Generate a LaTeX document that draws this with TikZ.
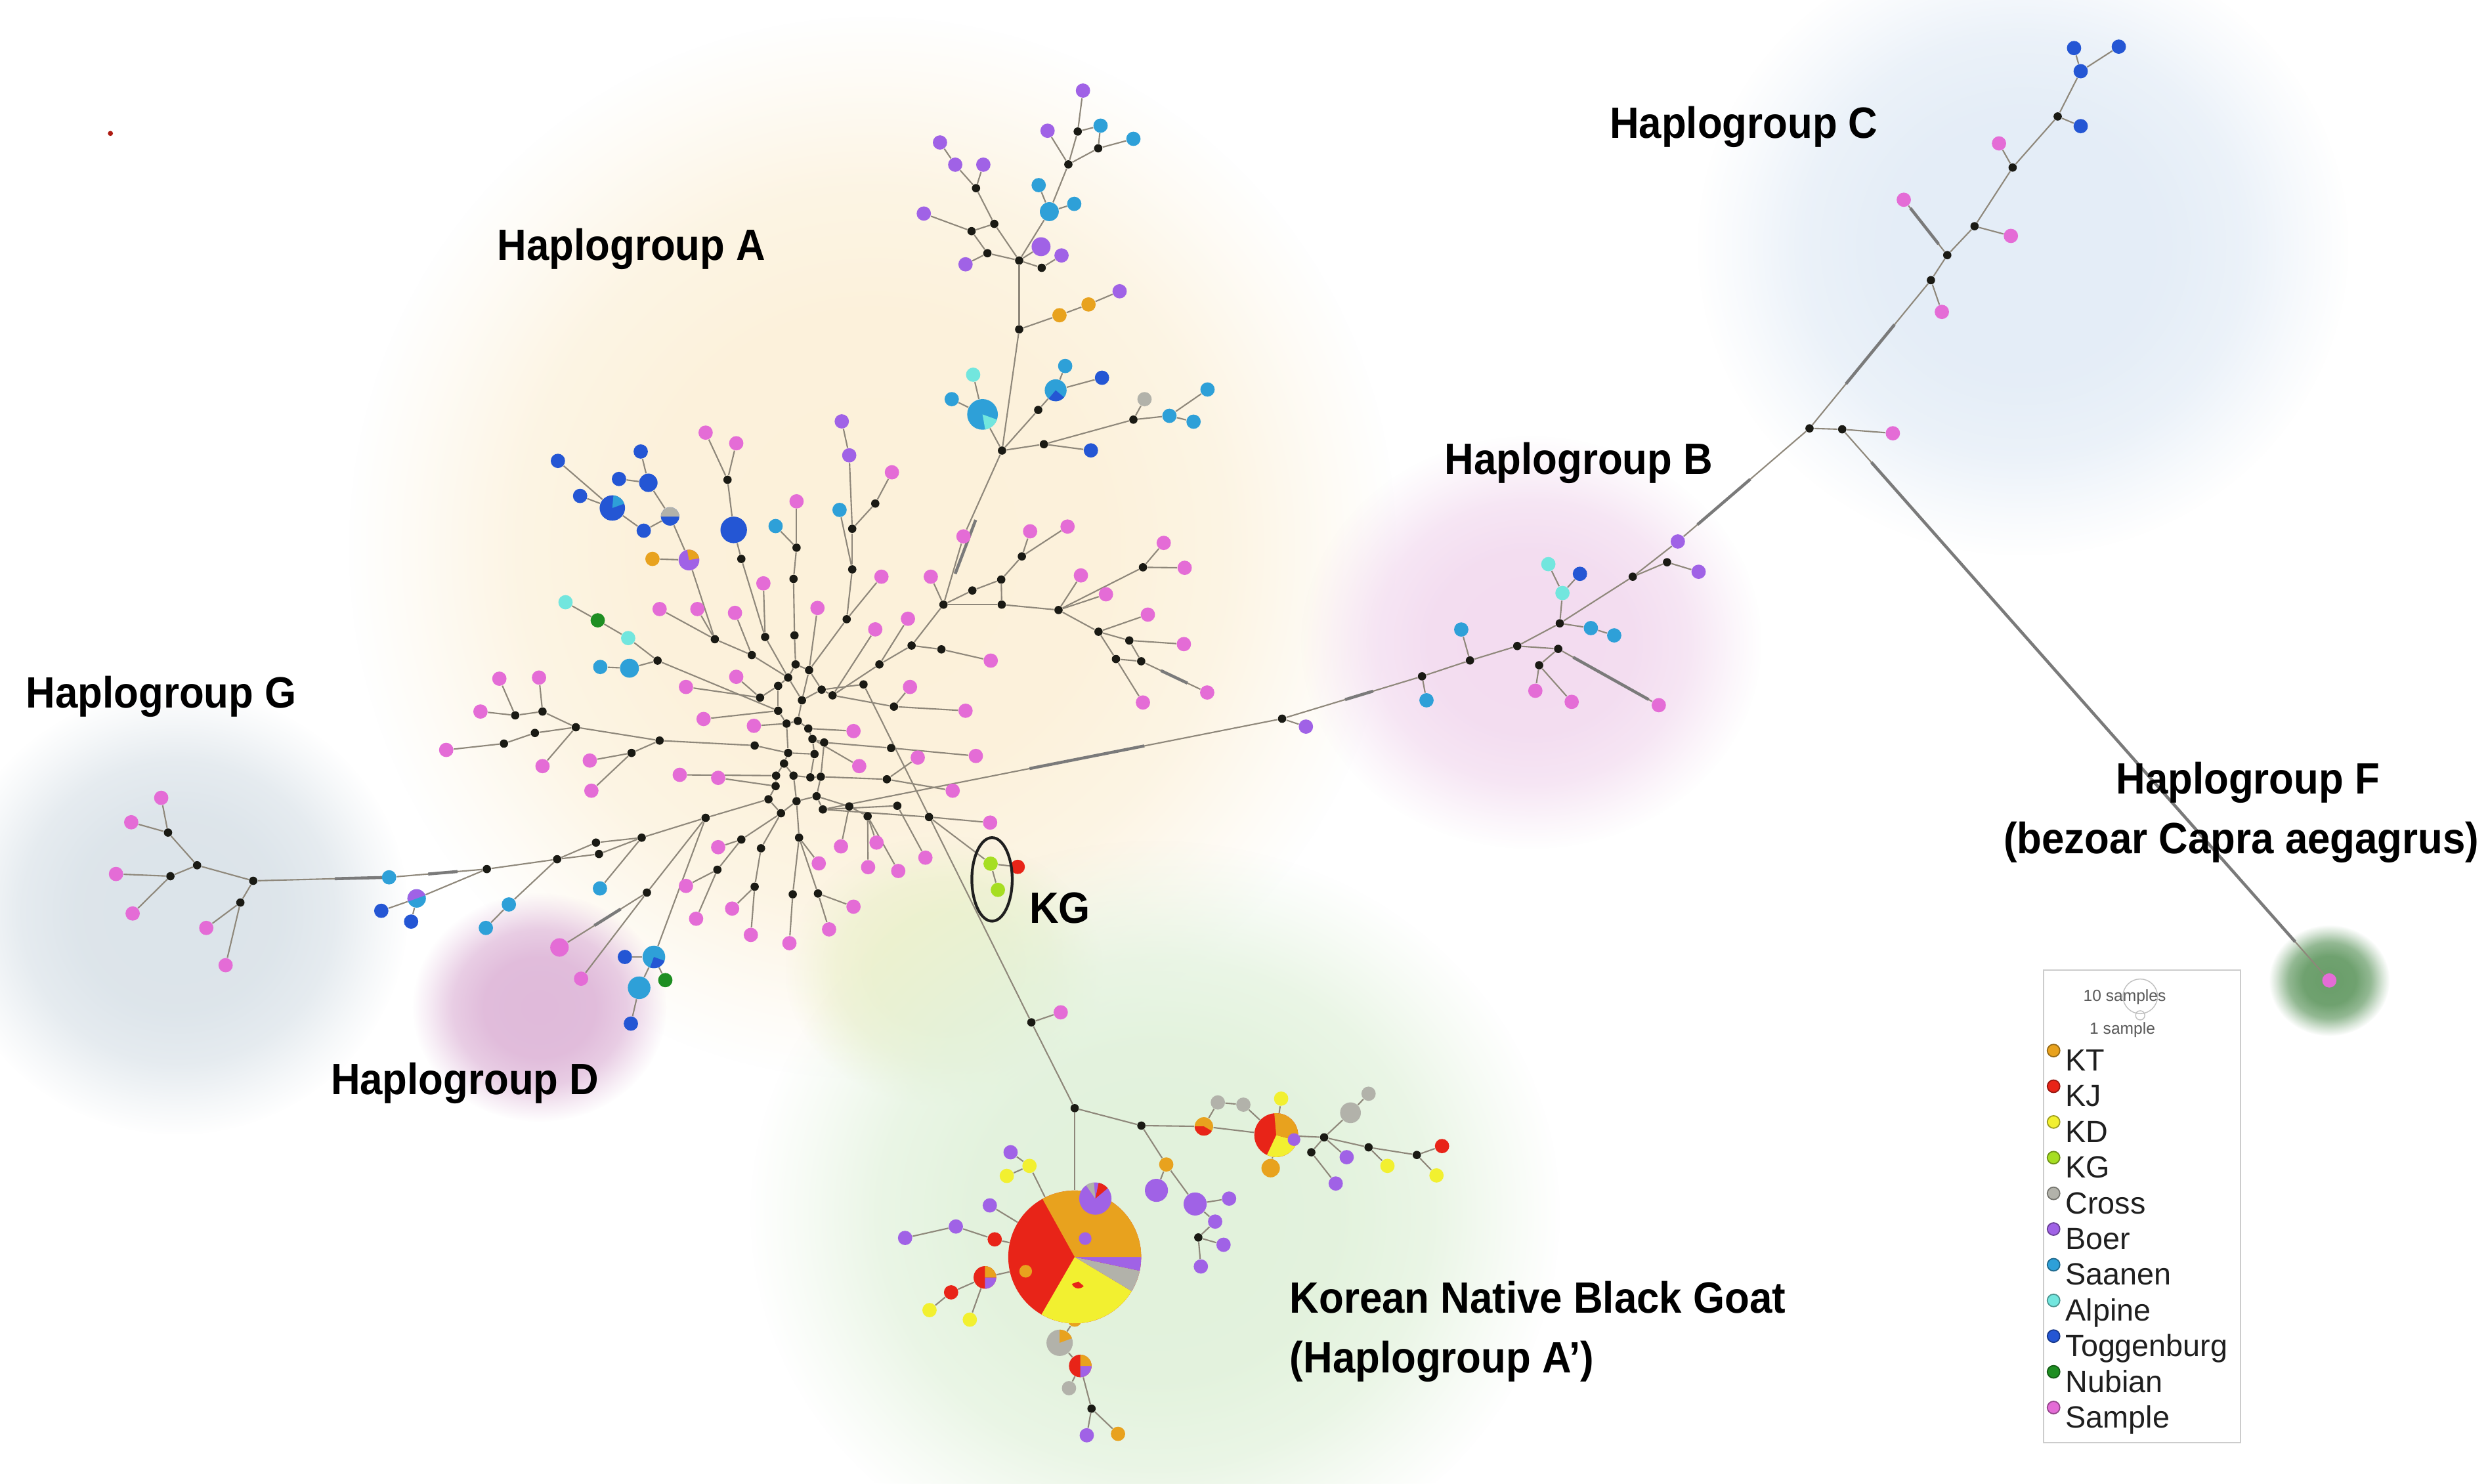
\documentclass[tikz,border=0pt]{standalone}
\usepackage{fontspec}
\setmainfont{Liberation Sans}
\newfontfamily\labfont[FakeStretch=0.925]{Liberation Sans}
\usetikzlibrary{calc,fadings,shapes.geometric}
\pgfdeclarelayer{blobs}
\pgfdeclarelayer{edges}
\pgfsetlayers{blobs,edges,main}
\pgfdeclareradialshading{blobshade}{\pgfpointorigin}{color(0bp)=(white); color(11bp)=(white!96!black); color(17bp)=(white!72!black); color(22bp)=(white!25!black); color(25bp)=(black); color(50bp)=(black)}
\pgfdeclarefading{blobfade}{\pgfuseshading{blobshade}}
\definecolor{cKT}{HTML}{E8A21E}
\definecolor{cKJ}{HTML}{E82418}
\definecolor{cKD}{HTML}{F2F030}
\definecolor{cKG}{HTML}{A6DE22}
\definecolor{cCross}{HTML}{B2B2AA}
\definecolor{cBoer}{HTML}{A062E6}
\definecolor{cSaanen}{HTML}{2EA0D8}
\definecolor{cAlpine}{HTML}{72E6DE}
\definecolor{cTog}{HTML}{2456D4}
\definecolor{cNubian}{HTML}{1E8E22}
\definecolor{cSample}{HTML}{E46CD6}
\definecolor{cMed}{HTML}{1A1A14}
\definecolor{cEdge}{HTML}{8E877A}
\definecolor{cBlobA}{HTML}{FCF1DA}
\definecolor{cBlobC}{HTML}{E4EDF7}
\definecolor{cBlobB}{HTML}{F3DCF0}
\definecolor{cBlobG}{HTML}{DCE4EA}
\definecolor{cBlobD}{HTML}{E0BADA}
\definecolor{cBlobK}{HTML}{E2F2DC}
\definecolor{cBlobY}{HTML}{EDF1CF}
\definecolor{cBlobF}{HTML}{6A9E6A}
\newcommand\pslice[5]{%
  \begin{scope}[shift={(#1.center)},x=1pt,y=1pt]
    \fill[#5] (0,0) -- (#2:#4) arc[start angle=#2,end angle=#3,radius=#4] -- cycle;
  \end{scope}}
\tikzset{
  hdot/.style={circle,inner sep=0pt,minimum size=6.2pt,fill=#1},
  smp/.style={hdot=cSample},
  boer/.style={hdot=cBoer},
  saan/.style={hdot=cSaanen},
  togg/.style={hdot=cTog},
  alp/.style={hdot=cAlpine},
  nub/.style={hdot=cNubian},
  ktn/.style={hdot=cKT},
  kjn/.style={hdot=cKJ},
  kdn/.style={hdot=cKD},
  kgn/.style={hdot=cKG},
  crs/.style={hdot=cCross},
  med/.style={circle,inner sep=0pt,minimum size=3.6pt,fill=cMed},
  conn/.style={draw=cEdge,line width=0.6pt},
  mutseg/.style={draw=black!52,line width=1.3pt},
  lab/.style={font=\labfont\bfseries\fontsize{19}{23}\selectfont,text=black,inner sep=0pt,anchor=base},
  leg/.style={font=\fontsize{13.3}{16}\selectfont,text=black!88,inner sep=0pt,anchor=base west},
  ldot/.style={circle,inner sep=0pt,minimum size=5.4pt,fill=#1,draw=#1!65!black,line width=0.5pt},
}
\begin{document}
\begin{tikzpicture}[x=0.02417cm,y=-0.02417cm]
\useasboundingbox (0,0) rectangle (1568,935);

% ---------- soft background blobs ----------
\begin{pgfonlayer}{blobs}
\fill[white] (0,0) rectangle (1568,935);
\fill[cBlobA, path fading=blobfade] (550,345) ellipse (330 and 335);
\fill[cBlobY, path fading=blobfade] (595,612) ellipse (100 and 85);
\fill[cBlobK, path fading=blobfade] (728,765) ellipse (255 and 235);
\fill[cBlobG, path fading=blobfade] (112,575) ellipse (145 and 140);
\fill[cBlobD, path fading=blobfade] (340,635) ellipse (80 and 72);
\fill[cBlobB, path fading=blobfade] (965,405) ellipse (145 and 130);
\fill[cBlobC, path fading=blobfade] (1275,155) ellipse (205 and 195);
\fill[cBlobF, path fading=blobfade] (1468,618) ellipse (38 and 35);
\end{pgfonlayer}

% ---------- median vectors ----------
\foreach \n/\x/\y in {h1/496.7/427.1, h2/509.9/422.4, h3/501.4/418.8, h4/490.4/432.3, h5/517.8/434.7, h6/524.7/438.3, h7/505.4/441.4, h8/490.4/448.0, h9/502.8/454.4, h10/509.4/459.2, h11/495.7/456.1, h12/512.0/465.8, h13/496.7/474.6, h14/519.4/468.0, h15/513.3/475.3, h16/494.1/481.3, h17/489.1/488.9, h18/500.1/488.9, h19/510.7/490.0, h20/517.3/489.6, h21/488.8/495.5, h22/484.3/503.8, h23/492.2/512.6, h24/502.0/505.0, h25/514.6/501.9, h26/518.6/510.2,
m1/500.7/400.5, m2/500.1/364.9, m3/502.0/345.2, m4/533.6/390.3, m5/537.1/358.9, m6/537.1/333.3, m7/551.6/317.4, m8/482.2/401.5, m9/467.2/352.3, m10/458.5/302.4, m11/473.8/412.9, m12/450.5/402.9, m13/479.0/439.7, m14/414.4/416.4, m15/475.6/469.9, m16/415.7/466.8, m17/362.9/458.4, m18/341.9/448.5, m19/324.7/450.9, m20/337.1/462.0, m21/317.6/468.7, m22/398.0/474.6, m23/444.7/515.5, m24/404.4/528.0, m25/375.6/531.1, m25b/377.5/538.3, m26/351.1/541.6, m27/306.8/547.8, m28/407.7/562.6, m29/467.2/529.2, m30/452.1/548.2, m31/479.6/534.7, m32/475.6/558.9, m33/503.6/528.0, m34/499.6/563.7, m35/515.5/563.2, m36/535.2/508.3, m37/546.8/514.5, m38/565.5/507.9, m39/585.5/515.0, m40/558.9/491.2, m41/561.6/471.5, m42/563.4/445.4, m43/554.2/418.8, m44/574.5/406.9, m45/593.3/409.3, m46/544.2/431.4,
r1/594.6/381.1, r2/612.8/372.2, r3/631.0/365.3, r4/644.0/350.7, r5/631.3/381.1, r6/667.1/384.5, r7/720.3/357.6, r8/692.3/398.2, r9/711.7/403.7, r10/703.3/415.4, r11/719.2/416.8,
t0/631.5/284.0, t1/654.3/258.4, t2/657.9/280.0, t3/714.3/264.5, t4/642.3/207.6, t5/642.3/164.2, t6/656.5/168.8, t7/673.3/103.6, t8/679.2/82.9, t9/692.1/93.5, t10/622.3/159.6, t11/612.3/145.7, t12/626.6/141.1, t13/615.1/118.6,
g1/159.6/555.2, g2/124.2/545.4, g3/105.9/524.8, g4/107.4/552.3, g5/151.5/568.9,
k1/650.0/644.4, k2/677.3/698.5, k3/719.3/709.5, k4/834.5/716.9, k5/826.4/726.3, k6/862.5/723.2, k7/892.9/728.0, k8/755.2/780.0, k9/687.9/887.9,
bl0/808.0/453.0, bb1/896.2/426.3, bb2/926.4/416.3, bb3/956.2/407.2, bb4/983.0/392.9, bb5/982.0/409.0, bb6/970.0/419.3, bb7/1029.0/363.5, bb8/1050.6/354.4,
c0/1140.4/270.0, c1/1161.0/270.6, c2/1216.9/176.6, c3/1227.2/160.8, c4/1244.4/142.6, c5/1268.4/105.6, c6/1296.8/73.4}
  \node[med] (\n) at (\x,\y) {};

% ---------- samples ----------
\foreach \n/\x/\y in {p1/444.7/272.7, p2/464.0/279.4, p5/562.1/297.7, p6/502.0/316.0, p9/481.1/367.7, p10/415.7/383.9, p11/439.5/383.9, p12/463.2/386.3, p13/515.2/383.2, p14/555.5/363.5, p15/586.6/363.5, p16/607.2/338.1, p17/649.2/334.9, p18/572.2/390.0, p19/551.6/396.7, p20/624.4/416.4, p21/464.0/426.6, p22/432.3/433.0, p23/573.5/433.0, p24/608.5/448.0, p25/443.4/453.2, p26/475.1/457.5, p27/537.9/460.8, p28/615.0/476.5, p29/578.4/477.5, p30/541.5/482.9, p31/428.4/488.4, p32/452.6/490.3, p33/600.4/498.4, p34/624.0/518.5, p35/452.6/534.0, p36/530.0/533.5, p37/552.4/531.1, p38/583.2/540.6, p39/516.0/544.2, p40/547.1/546.6, p41/566.1/549.0, p42/432.3/558.4, p43/461.4/572.7, p44/438.7/579.1, p45/537.9/571.5, p46/473.2/589.3, p47/497.5/594.5, p48/522.5/585.8, p49/672.8/331.9, p50/681.2/362.7, p51/697.0/374.6, p52/733.4/342.2, p53/746.6/357.9, p54/723.4/387.4, p55/746.1/406.0, p56/720.3/442.8, p57/760.8/436.5, p58/314.7/427.8, p59/339.7/427.1, p60/302.8/448.5, p61/281.2/472.7, p62/341.9/482.9, p63/371.7/479.4, p64/372.7/498.4, p66/366.2/616.9, pk/668.5/638.1,
pg1/101.6/502.9, pg2/82.7/518.3, pg3/73.1/550.9, pg4/83.6/575.8, pg5/130.0/584.9, pg6/142.2/608.4,
pB1/967.6/435.4, pB2/990.5/442.4, pB3/1045.4/444.5, pC1/1192.9/273.1, pC2/1223.8/196.6, pC3/1199.8/125.9, pC4/1267.3/148.7, pC5/1259.8/90.4, pF/1468.0/618.0}
  \node[smp] (\n) at (\x,\y) {};
\node[smp, minimum size=8pt] (p65) at (352.6,597.2) {};

\foreach \n/\x/\y in {b1/530.5/265.6, b2/535.2/287.0, b3/705.6/183.6, b4/669.0/161.0, b6/682.5/57.1, b7/660.2/82.4, b8/608.5/166.6, b9/582.2/134.6, b10/602.0/103.8, b11/619.7/103.8, b12/592.4/89.8, bpu0/823.0/458.0, boB1/1057.4/341.3, boB2/1070.5/360.4, bo2/848.7/729.4, bo3/841.8/746.0, bo6/774.6/755.5, bo7/765.8/770.0, bo8/771.1/784.6, bo9/756.8/798.3, bo11/636.9/726.3, bo12/623.8/759.8, bo13/602.4/773.1, bo14/570.4/780.3, bo15/684.9/904.7}
  \node[boer] (\n) at (\x,\y) {};
\foreach \n/\x/\y in {s1/529.1/321.4, s2/488.8/331.6, sa3/378.3/420.4, sa5/599.8/251.6, sa6/671.3/230.7, sa7/737.0/262.1, sa8/752.2/265.8, sa9/761.0/245.5, sa11/654.6/116.7, sa12/677.0/128.5, sa13/693.6/79.2, sa14/714.3/87.5, saG/245.2/553.0, sa15/320.7/570.1, sa16/306.2/584.9, sa17/378.1/560.0, saB1/899.0/441.4, saB2/920.9/396.8, saB3/1002.6/395.9, saB4/1017.3/400.5}
  \node[saan] (\n) at (\x,\y) {};
\foreach \n/\x/\y in {tg1/351.6/290.5, tg2/403.8/284.6, tg3/390.1/301.9, tg5/365.6/312.6, tg6/405.7/334.5, tg8/694.5/238.1, tg9/687.5/283.9, tgG1/240.3/574.1, tgG2/259.1/580.9, tgD1/393.8/603.2, tgD2/397.6/645.2, tgB/995.7/361.7, tgC1/1311.3/79.5, tgC2/1311.3/44.9, tgC3/1307.1/30.3, tgC4/1335.3/29.4}
  \node[togg] (\n) at (\x,\y) {};
\foreach \n/\x/\y in {al1/356.4/379.6, al2/395.9/402.2, al3/613.3/236.2, alB1/984.7/373.8, alB2/975.8/355.6}
  \node[alp] (\n) at (\x,\y) {};
\foreach \n/\x/\y in {nu1/376.7/391.0, nuD/419.3/617.8}
  \node[nub] (\n) at (\x,\y) {};
\foreach \n/\x/\y in {kt1/411.2/352.3, kt2/667.7/198.7, kt3/686.0/191.9, kt5/735.0/734.0, kt7/677.3/831.8, kt8/704.6/903.8}
  \node[ktn] (\n) at (\x,\y) {};
\foreach \n/\x/\y in {kj0/641.4/546.4, kj1/908.8/722.4, kj2/626.9/781.2, kj3/599.4/814.6}
  \node[kjn] (\n) at (\x,\y) {};
\foreach \n/\x/\y in {kd1/807.4/692.5, kd2/874.4/734.9, kd3/905.3/740.9, kd5/648.8/734.9, kd6/634.5/741.2, kd7/585.8/825.8, kd8/611.2/831.8}
  \node[kdn] (\n) at (\x,\y) {};
\foreach \n/\x/\y in {kg1/624.3/544.4, kg2/628.9/560.9}
  \node[kgn] (\n) at (\x,\y) {};
\foreach \n/\x/\y in {cr1/721.3/251.6, cr2/767.5/694.9, cr3/783.6/696.3, cr5/862.5/689.4, cr6/673.7/875.0}
  \node[crs] (\n) at (\x,\y) {};

% ---------- larger nodes and pies, haplogroups A, D, G ----------
\node[togg, minimum size=8pt] (tg4) at (408.6,304.3) {};
\node[togg, minimum size=11.5pt] (tg7) at (462.4,334.0) {};
\node[saan, minimum size=8.2pt] (sa4) at (396.7,421.2) {};
\node[saan, minimum size=8.2pt] (sa10) at (661.3,133.4) {};
\node[boer, minimum size=8.2pt] (b5) at (656.1,155.5) {};
\node[togg, minimum size=11pt] (pieTG) at (385.9,320.2) {};
\pslice{pieTG}{20}{85}{5.5}{cSaanen}
\node[togg, minimum size=8pt] (pieTC) at (422.3,325.5) {};
\pslice{pieTC}{0}{180}{4}{cCross}
\node[boer, minimum size=9pt] (pieBK) at (434.2,353.0) {};
\pslice{pieBK}{10}{100}{4.5}{cKT}
\node[saan, minimum size=13.3pt] (ps1) at (619.2,261.2) {};
\pslice{ps1}{280}{340}{6.65}{cAlpine}
\node[saan, minimum size=9.5pt] (ps2) at (665.3,246.0) {};
\pslice{ps2}{230}{320}{4.75}{cTog}
\node[saan, minimum size=8pt] (pieGB) at (262.6,566.3) {};
\pslice{pieGB}{20}{200}{4}{cBoer}
\node[saan, minimum size=9.8pt] (pieD) at (412.1,603.2) {};
\pslice{pieD}{250}{340}{4.9}{cTog}
\node[saan, minimum size=9.8pt] (saD) at (402.8,622.6) {};

% ---------- Korean native black goat ----------
\node[boer, minimum size=10pt] (bo4) at (728.8,750.3) {};
\node[boer, minimum size=10pt] (bo5) at (753.2,758.9) {};
\node[crs, minimum size=9pt] (cr4) at (851.1,701.4) {};
\node[ktn, minimum size=8pt] (kt4) at (800.8,736.3) {};
\node[ktn, minimum size=8pt] (pie1) at (758.7,710.0) {};
\pslice{pie1}{180}{330}{4}{cKJ}
\node[kjn, minimum size=19pt] (pie2) at (804.3,715.5) {};
\pslice{pie2}{245}{345}{9.5}{cKD}
\pslice{pie2}{-15}{95}{9.5}{cKT}
\node[boer, minimum size=5.5pt] (bo1) at (815.5,718.3) {};
\node[kjn, minimum size=57.6pt] (kbig) at (677.3,792.3) {};
\pslice{kbig}{240}{329}{28.8}{cKD}
\pslice{kbig}{329}{348}{28.8}{cCross}
\pslice{kbig}{348}{360}{28.8}{cBoer}
\pslice{kbig}{0}{119}{28.8}{cKT}
\node[boer, minimum size=14pt] (pie3) at (690.3,755.5) {};
\pslice{pie3}{95}{125}{7}{cCross}
\pslice{pie3}{40}{78}{7}{cKJ}
\node[boer, minimum size=5.5pt] (bo10) at (683.9,780.7) {};
\node[ktn, minimum size=5.5pt] (kt6) at (646.4,801.3) {};
\node[kdn, minimum size=6pt] (pie4) at (679.6,807.8) {};
\pslice{pie4}{200}{320}{3}{cKJ}
\node[kjn, minimum size=9.8pt] (pie5) at (620.7,805.2) {};
\pslice{pie5}{270}{360}{4.9}{cBoer}
\pslice{pie5}{0}{90}{4.9}{cKT}
\node[crs, minimum size=11.4pt] (pie6) at (667.8,846.4) {};
\pslice{pie6}{20}{90}{5.7}{cKT}
\node[kjn, minimum size=9.8pt] (pie7) at (680.8,861.0) {};
\pslice{pie7}{270}{360}{4.9}{cBoer}
\pslice{pie7}{0}{90}{4.9}{cKT}

% KG ring and stray speck
\node[draw=black!88, line width=1.2pt, ellipse, inner sep=0pt, minimum width=17.5pt, minimum height=36.2pt] (kgring) at (625.2,554.3) {};
\node[circle, fill=cKJ!75!black, inner sep=0pt, minimum size=2.2pt] (speck) at (69.6,84.1) {};

% ---------- connectors ----------
\begin{pgfonlayer}{edges}
\foreach \a/\b in {h3/h1, h3/h2, h1/h4, h1/h7, h2/h7, h2/h5, h5/h6, h7/h9, h4/h8, h8/h11, h9/h11, h9/h10, h10/h12, h11/h13, h12/h14, h12/h15, h13/h16, h15/h19, h16/h17, h16/h18, h18/h19, h19/h20, h17/h21, h21/h22, h22/h23, h18/h24, h24/h25, h24/h23, h25/h26, h20/h25, h7/h5, h15/h13, h14/h20,
h3/m1, m1/m2, m2/m3, m3/p6, s2/m3,
h2/m4, m4/m5, m5/m6, m6/m7, m7/p5, m6/b2, b2/b1, m5/s1, m4/p14, h2/p13,
h1/m8, m8/m9, m9/tg7, tg7/m10, m10/p1, m10/p2, m8/p9,
h1/m11, m11/m12, m12/pieBK, m12/p11, m12/p10, m11/p12,
pieBK/kt1, pieBK/pieTC, pieTC/tg6, pieTC/tg4, tg4/tg2, tg4/tg3, tg6/pieTG, pieTG/tg5, pieTG/tg1,
h4/m13, m13/p21, m13/p22,
h8/m14, m14/sa4, sa4/sa3, m14/al2, al2/nu1, nu1/al1,
h8/p25, h11/p26,
h13/m15, m15/m16, m16/m17, m16/m22, m22/p63, m22/p64, m17/m18, m18/p59, m18/m19, m19/p58, m19/p60, m17/m20, m20/m21, m21/p61, m17/p62,
h17/p31, h21/p32,
h22/m23, m23/m24, m24/m25, m24/m25b, m25/m26, m25b/m26, m26/m27, m27/saG, saG/g1, m27/pieGB, pieGB/tgG1, pieGB/tgG2, m26/sa15, sa15/sa16, m24/sa17, m23/m28, m28/p65, m28/p66, m23/pieD, pieD/tgD1, pieD/nuD, pieD/saD, saD/tgD2,
g1/g2, g2/g3, g3/pg1, g3/pg2, g2/g4, g4/pg3, g4/pg4, g1/g5, g5/pg5, g5/pg6,
h23/m29, m29/p35, m29/m30, m30/p42, m30/p44,
h23/m31, m31/m32, m32/p43, m32/p46,
h24/m33, m33/m34, m34/p47, m33/m35, m35/p48, m33/p39, m35/p45,
h25/m36, m36/p36, m36/m37, m37/p37, m37/p40, m37/p41,
h26/m38, m38/p38, h26/m39, m39/p34, m39/kg1, kg1/kg2, kg1/kj0,
h20/m40, m40/p29, m40/p33,
h14/m41, m41/p28, h12/p30, h10/p27,
h6/m42, m42/p24, m42/p23,
h6/m43, m43/m44, m44/m45, m45/p20, m43/p18, m44/r1, r1/p15, h6/p19,
h5/m46, m46/k1, k1/pk, k1/k2,
r1/p16, p16/t0,
r1/r2, r2/r3, r3/r4, r4/p17, r4/p49, r1/r5, r3/r5, r5/r6, r6/p50, r6/p51, r6/r7, r7/p52, r7/p53, r6/r8, r8/p54, r8/r9, r9/p55, r8/r10, r10/p56, r9/r11, r10/r11, r11/p57,
t0/ps1, ps1/al3, ps1/sa5, t0/t1, t1/ps2, ps2/sa6, ps2/tg8, t0/t2, t2/tg9, t2/t3, t3/cr1, t3/sa7, sa7/sa8, sa7/sa9, t0/t4, t4/kt2, kt2/kt3, kt3/b3, t4/t5, t5/t6, t6/b4, t5/b5, t5/sa10, sa10/t7, sa10/sa11, sa10/sa12, t7/t8, t8/b6, t8/sa13, t7/t9, t9/sa13, t9/sa14, t7/b7, t5/t10, t10/b8, t10/t11, t11/b9, t11/t12, t5/t12, t12/t13, t13/b10, t13/b11, b10/b12,
k2/kbig, k2/k3, k3/pie1, pie1/pie2, pie1/cr2, cr2/cr3, cr3/pie2, pie2/kd1, pie2/k4, pie2/kt4, k4/cr4, cr4/cr5, k4/k5, k4/k6, k6/kd2, k6/k7, k7/kj1, k7/kd3, k4/bo2, k5/bo3,
k3/kt5, kt5/bo4, kt5/bo5, bo5/bo6, bo5/bo7, bo7/k8, k8/bo8, k8/bo9,
kbig/kd5, kd5/bo11, kd5/kd6, kbig/bo12, kbig/kj2, kj2/bo13, bo13/bo14, kbig/pie5, pie5/kj3, kj3/kd7, pie5/kd8, kbig/kt7, kt7/pie6, pie6/pie7, pie7/cr6, pie7/k9, k9/bo15, k9/kt8,
h26/bl0, bl0/bpu0, bl0/bb1, bb1/saB1, bb1/bb2, bb2/saB2, bb2/bb3, bb3/bb4, bb3/bb5, bb5/bb6, bb6/pB1, bb6/pB2, bb5/pB3, bb4/alB1, alB1/alB2, alB1/tgB, bb4/saB3, saB3/saB4, bb4/bb7, bb7/boB1, bb7/bb8, bb8/boB2, boB1/c0,
c0/c1, c1/pC1, c1/pF, c0/c2, c2/pC2, c2/c3, c3/pC3, c3/c4, c4/pC4, c4/c5, c5/pC5, c5/c6, c6/tgC1, c6/tgC2, tgC2/tgC3, tgC2/tgC4}
  \draw[conn] (\a) -- (\b);
\foreach \a/\b/\s/\e in {h26/bl0/0.45/0.70, boB1/c0/0.15/0.55, c0/c2/0.3/0.7, c1/pF/0.06/0.93, saG/g1/0.05/0.4, t0/r1/0.45/0.8, pB3/bb5/0.1/0.85, pC3/c3/0.15/0.8, bl0/bb1/0.45/0.65, m27/saG/0.3/0.6, r11/p57/0.3/0.7, m28/p65/0.3/0.6}
  \draw[mutseg] ($(\a)!\s!(\b)$) -- ($(\a)!\e!(\b)$);
\end{pgfonlayer}

% ---------- labels ----------
\node[lab] (labA) at (398,164) {Haplogroup A};
\node[lab] (labC) at (1099,87) {Haplogroup C};
\node[lab] (labB) at (995,299) {Haplogroup B};
\node[lab] (labG) at (101.6,446) {Haplogroup G};
\node[lab] (labD) at (293,690) {Haplogroup D};
\node[lab] (labF1) at (1416.7,500.5) {Haplogroup F};
\node[lab] (labF2) at (1412.5,538) {(bezoar Capra aegagrus)};
\node[lab, anchor=base west] (labK1) at (812.6,827.5) {Korean Native Black Goat};
\node[lab, anchor=base west] (labK2) at (812.6,865.2) {(Haplogroup A’)};
\node[lab] (labKG) at (668,582) {KG};

% ---------- legend ----------
\node[draw=black!20, fill=white, line width=0.6pt, inner sep=0pt, anchor=north west, minimum width=85.4pt, minimum height=204.9pt] (legend) at (1287.4,611) {};
\node[draw=black!25, circle, inner sep=0pt, minimum size=15pt, line width=0.4pt] (c10) at (1348.8,628) {};
\node[draw=black!25, circle, inner sep=0pt, minimum size=4pt, line width=0.4pt] (c1s) at (1348.8,640) {};
\node[font=\fontsize{7}{8}\selectfont, text=black!65, inner sep=0pt, anchor=base] (t10) at (1339,631) {10 samples};
\node[font=\fontsize{7}{8}\selectfont, text=black!65, inner sep=0pt, anchor=base] (t1s) at (1337.6,652) {1 sample};
\foreach \c/\t [count=\i from 0] in {cKT/KT,cKJ/KJ,cKD/KD,cKG/KG,cCross/Cross,cBoer/Boer,cSaanen/Saanen,cAlpine/Alpine,cTog/Toggenburg,cNubian/Nubian,cSample/Sample}{
  \node[ldot=\c] (ld\i) at (1294.2,{662.2+22.5*\i}) {};
  \node[leg] (lt\i) at (1301.5,{675+22.5*\i}) {\t};
}
\end{tikzpicture}
\end{document}
